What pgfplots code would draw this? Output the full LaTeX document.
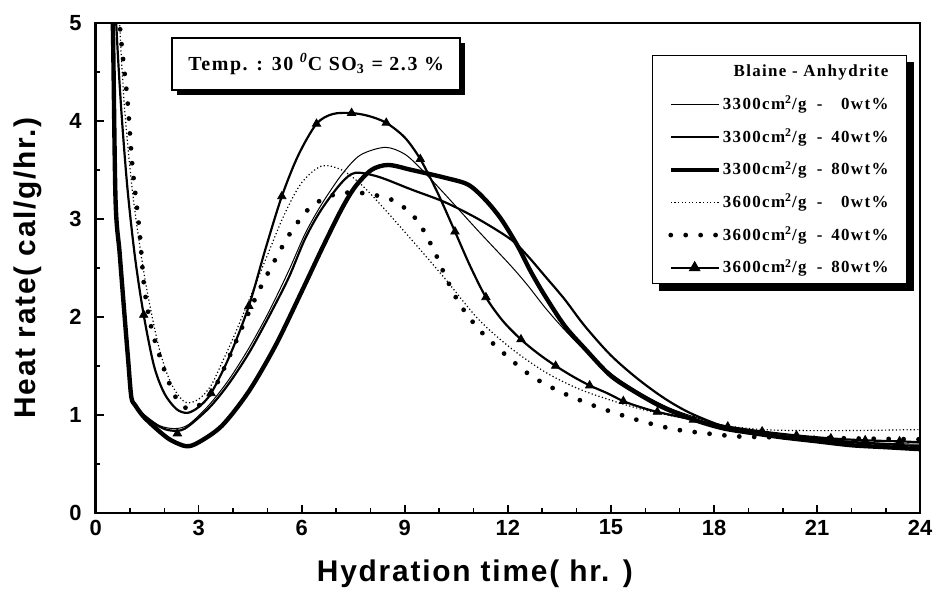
\documentclass[border=0pt]{standalone}
\usepackage{fontspec}
\setmainfont{Liberation Sans}
\newfontfamily\serifb[LetterSpace=8]{Liberation Serif}
\newfontfamily\labfont[LetterSpace=6]{Liberation Sans}
\usepackage{pgfplots}
\pgfplotsset{compat=1.18}
\usetikzlibrary{shadows}

% legend text: fineness - anhydrite content
\newcommand\legtxt[2]{#1cm\textsuperscript{2}/g\hspace{0.6em}-\hspace{0.5em}\makebox[3.4em][r]{#2wt\%}}

\tikzset{
  thinln/.style={line width=0.5pt},
  medln/.style={line width=1.1pt},
  thickln/.style={line width=2.2pt},
  thindot/.style={line width=0.6pt, dash pattern=on 0.6pt off 1.2pt},
  bolddot/.style={line width=2.4pt, line cap=round, dash pattern=on 0pt off 7.5pt},
}

\begin{document}
\begin{tikzpicture}
\begin{axis}[
    name=ax,
    scale only axis,
    width=414pt, height=246pt,
    xmin=0, xmax=24, ymin=0, ymax=5,
    xtick={0,3,...,24}, ytick={0,1,...,5},
    minor x tick num=2, minor y tick num=1,
    tick pos=left, tick align=inside,
    major tick length=4pt, minor tick length=2.2pt,
    tick style={black, line width=0.8pt},
    axis line style={line width=1.3pt},
    /pgf/number format/assume math mode=true,
    ticklabel style={font=\bfseries\fontsize{11}{11}\selectfont},
    yticklabel style={xshift=-3.5pt},
    xlabel={Hydration time( hr. )},
    ylabel={Heat rate( cal/g/hr.)},
    xlabel style={at={(axis description cs:0.46,-0.124)}, anchor=center,
        font=\labfont\bfseries\fontsize{15}{15}\selectfont},
    ylabel style={at={(axis description cs:-0.082,0.5)}, anchor=center,
        font=\labfont\bfseries\fontsize{15}{15}\selectfont},
    legend image code/.code={\draw[mark repeat=2,mark phase=2,#1] plot coordinates {(0pt,0pt) (12pt,0pt) (24pt,0pt)};},
    legend cell align=left,
    legend style={
        name=leg,
        at={(axis description cs:0.984,0.934)}, anchor=north east,
        draw=black, line width=0.6pt, fill=white,
        font=\serifb\bfseries\fontsize{8.5}{8.5}\selectfont,
        inner xsep=8pt, inner ysep=3pt, row sep=6.4pt,
        nodes={inner sep=1pt, text height=6.5pt, text depth=1.5pt},
    },
]

% 3300 cm2/g - 0 wt%
\addplot[thinln, smooth, forget plot] coordinates {
(0.40,6.0)(0.50,5.0)(0.58,3.2)(0.70,2.65)(0.85,1.98)(0.95,1.55)(1.04,1.18)(1.15,1.10)
(1.40,1.00)(1.86,0.89)(2.30,0.86)(2.70,0.90)(3.30,1.10)(3.88,1.36)(4.46,1.68)(5.04,2.05)
(5.62,2.47)(6.10,2.85)(6.58,3.15)(7.16,3.45)(7.70,3.65)(8.43,3.73)(9.00,3.66)(9.50,3.50)
(10.17,3.25)(11.13,2.88)(12.09,2.52)(12.58,2.32)(13.07,2.10)(13.54,1.91)(14.03,1.73)
(14.60,1.54)(15.20,1.37)(15.97,1.20)(16.70,1.07)(17.50,0.97)(18.30,0.89)(19.20,0.83)
(20.0,0.79)(21.0,0.76)(22.0,0.73)(23.0,0.71)(24.0,0.70)};

% 3300 cm2/g - 40 wt%
\addplot[medln, smooth, forget plot] coordinates {
(0.40,6.0)(0.50,5.0)(0.58,3.2)(0.70,2.65)(0.85,1.98)(0.95,1.55)(1.04,1.18)(1.15,1.10)
(1.40,1.00)(1.86,0.88)(2.20,0.84)(2.60,0.86)(3.30,1.07)(3.88,1.32)(4.46,1.63)(5.04,2.00)
(5.62,2.40)(6.10,2.80)(6.58,3.10)(7.16,3.37)(7.56,3.47)(8.23,3.43)(9.19,3.30)(10.17,3.17)
(11.13,3.00)(12.09,2.79)(12.58,2.62)(13.07,2.42)(13.65,2.18)(14.23,1.91)(14.99,1.61)
(15.77,1.37)(16.55,1.17)(17.30,1.02)(18.30,0.88)(19.20,0.82)(20.0,0.78)(21.0,0.75)
(22.0,0.72)(23.0,0.70)(24.0,0.68)};

% 3300 cm2/g - 80 wt%
\addplot[thickln, smooth, forget plot] coordinates {
(0.40,6.0)(0.50,5.0)(0.58,3.2)(0.70,2.65)(0.85,1.98)(0.95,1.55)(1.04,1.18)(1.15,1.10)
(1.40,0.98)(1.86,0.83)(2.20,0.74)(2.64,0.68)(3.00,0.72)(3.68,0.89)(4.46,1.24)(5.24,1.71)
(6.00,2.26)(6.58,2.69)(7.16,3.10)(7.56,3.33)(8.03,3.50)(8.52,3.55)(9.19,3.50)(10.17,3.42)
(10.84,3.35)(11.33,3.20)(11.80,3.00)(12.29,2.72)(12.67,2.46)(13.07,2.22)(13.65,1.91)
(14.23,1.68)(14.99,1.40)(15.77,1.22)(16.55,1.07)(17.50,0.94)(18.30,0.86)(19.20,0.81)
(20.0,0.77)(21.0,0.73)(22.0,0.69)(23.0,0.67)(24.0,0.65)};

% 3600 cm2/g - 0 wt%
\addplot[thindot, smooth, forget plot] coordinates {
(0.60,6.0)(0.70,5.0)(0.85,4.1)(1.10,3.2)(1.45,2.36)(1.85,1.68)(2.20,1.32)(2.60,1.13)
(3.00,1.16)(3.36,1.30)(3.70,1.55)(4.00,1.78)(4.50,2.20)(5.00,2.63)(5.50,3.05)(6.00,3.37)
(6.58,3.54)(7.16,3.50)(7.70,3.36)(8.23,3.17)(9.19,2.79)(10.17,2.39)(11.13,1.98)
(12.09,1.68)(13.07,1.44)(14.03,1.27)(14.99,1.15)(15.97,1.05)(17.20,0.96)(18.30,0.89)
(19.40,0.85)(20.50,0.84)(22.0,0.84)(24.0,0.85)};

% 3600 cm2/g - 40 wt%
\addplot[bolddot, smooth, forget plot] coordinates {
(0.55,6.0)(0.70,5.0)(0.93,4.2)(1.07,3.54)(1.28,2.87)(1.42,2.29)(1.65,1.85)(2.06,1.40)
(2.35,1.17)(2.70,1.06)(3.10,1.12)(3.50,1.30)(3.90,1.60)(4.40,2.00)(4.80,2.30)(5.19,2.56)
(5.62,2.83)(6.14,3.08)(6.60,3.20)(6.98,3.25)(7.42,3.27)(7.85,3.26)(8.29,3.23)(8.72,3.18)
(9.13,3.07)(9.45,2.94)(9.86,2.67)(10.20,2.40)(10.60,2.13)(11.19,1.86)(11.94,1.61)
(12.67,1.40)(13.50,1.24)(14.38,1.11)(15.20,1.01)(16.05,0.92)(16.90,0.85)(17.80,0.81)
(18.70,0.78)(20.0,0.77)(22.0,0.76)(24.0,0.75)};

% 3600 cm2/g - 80 wt%
\addplot[medln, smooth, forget plot] coordinates {
(0.50,6.0)(0.60,5.0)(0.75,4.1)(0.93,3.3)(1.15,2.6)(1.40,2.02)(1.70,1.50)(2.00,1.22)
(2.35,1.06)(2.67,1.02)(3.00,1.08)(3.36,1.22)(3.90,1.60)(4.46,2.11)(4.95,2.70)(5.42,3.23)
(5.90,3.65)(6.43,3.97)(6.90,4.07)(7.45,4.08)(7.95,4.05)(8.46,3.98)(9.00,3.83)(9.45,3.61)
(9.95,3.27)(10.46,2.87)(10.90,2.52)(11.36,2.20)(11.85,1.96)(12.38,1.77)(12.90,1.62)
(13.39,1.50)(13.90,1.39)(14.38,1.30)(14.90,1.22)(15.36,1.14)(15.85,1.08)(16.35,1.03)
(17.40,0.95)(18.40,0.88)(19.40,0.83)(20.40,0.79)(21.40,0.76)(22.40,0.74)(23.40,0.73)
(24.0,0.72)};
\addplot[only marks, mark=triangle*, mark size=2.4pt, forget plot] coordinates {
(1.40,2.02)(2.38,0.81)(3.36,1.22)(4.46,2.11)(5.42,3.23)(6.43,3.97)(7.45,4.08)(8.46,3.98)
(9.45,3.61)(10.46,2.87)(11.36,2.20)(12.38,1.77)(13.39,1.50)(14.38,1.30)(15.36,1.14)
(16.35,1.03)(17.40,0.95)(18.40,0.88)(19.40,0.83)(20.40,0.79)(21.40,0.76)(22.40,0.74)
(23.40,0.73)};

\addlegendimage{empty legend}
\addlegendentry{\sbox0{\legtxt{3300}{80}}\makebox[\wd0][r]{Blaine - Anhydrite}}
\addlegendimage{thinln}
\addlegendentry{\legtxt{3300}{0}}
\addlegendimage{medln}
\addlegendentry{\legtxt{3300}{40}}
\addlegendimage{thickln}
\addlegendentry{\legtxt{3300}{80}}
\addlegendimage{thindot}
\addlegendentry{\legtxt{3600}{0}}
\addlegendimage{bolddot}
\addlegendentry{\legtxt{3600}{40}}
\addlegendimage{medln, mark=triangle*, mark size=2.4pt}
\addlegendentry{\legtxt{3600}{80}}

\node[draw, line width=0.8pt, fill=white,
      drop shadow={shadow xshift=2.5pt, shadow yshift=-2.5pt, fill=black, opacity=1},
      minimum width=144.5pt, minimum height=26pt,
      font=\serifb\bfseries\fontsize{10}{10}\selectfont]
  at (axis cs:6.42,4.58) {Temp. : 30 \textsuperscript{\itshape 0}C SO\textsubscript{3} = 2.3 \%};
\end{axis}
% shadow of the legend box, right and bottom
\fill[black] ([yshift=-3.5pt]leg.north east) rectangle ([xshift=3.5pt,yshift=-3.5pt]leg.south east);
\fill[black] ([xshift=3.5pt]leg.south west) rectangle ([xshift=3.5pt,yshift=-3.5pt]leg.south east);
\path (ax.south west) ++(-48pt,-44pt) coordinate (bl);
\path (ax.north east) ++(7.5pt,11.5pt) coordinate (tr);
\path (bl) rectangle (tr);
\end{tikzpicture}
\end{document}
